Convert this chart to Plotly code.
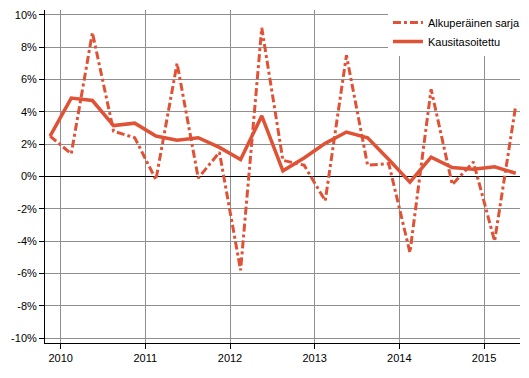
import plotly.graph_objects as go

quarters = [f"{y}Q{q}" for y in range(2010, 2016) for q in range(1, 5)][:23]
original = [2.5, 1.4, 8.9, 2.8, 2.4, -0.2, 7.0, -0.1, 1.5, -5.8, 9.2, 1.0,
            0.7, -1.5, 7.5, 0.7, 0.8, -4.7, 5.4, -0.5, 0.9, -4.0, 4.4]
adjusted = [2.5, 4.85, 4.7, 3.15, 3.3, 2.5, 2.25, 2.4, 1.8, 1.05, 3.75, 0.35,
            1.15, 2.05, 2.75, 2.4, 1.05, -0.35, 1.2, 0.55, 0.45, 0.6, 0.2]
year_labels = ["2010", "2011", "2012", "2013", "2014", "2015"]
y_ticks = [-10, -8, -6, -4, -2, 0, 2, 4, 6, 8, 10]
names = ["Alkuperäinen sarja", "Kausitasoitettu"]

color = "#e05236"
xs = list(range(len(quarters)))
tick_pos = [quarters.index(f"{y}Q1") + 0.5 for y in year_labels]

fig = go.Figure()
fig.add_trace(go.Scatter(x=xs, y=original, mode="lines", name=names[0],
                         line=dict(color=color, width=3, dash="8px,3px,3px,3px")))
fig.add_trace(go.Scatter(x=xs, y=adjusted, mode="lines", name=names[1],
                         line=dict(color=color, width=3.5)))

fig.update_layout(
    width=521, height=370,
    margin=dict(l=37, r=9, t=2, b=35, autoexpand=False),
    paper_bgcolor="white", plot_bgcolor="white",
    font=dict(family="Liberation Sans, Arial, sans-serif", size=11, color="#000"),
    showlegend=True,
    legend=dict(x=0.722, y=1.006, xanchor="left", yanchor="top",
                bgcolor="white", borderwidth=0, font=dict(size=11),
                tracegroupgap=0),
)
fig.update_xaxes(range=[-0.24, 22.2], tickmode="array", tickvals=tick_pos,
                 ticktext=year_labels, showgrid=True, gridcolor="#8f8f8f",
                 gridwidth=1, showline=True, linecolor="black", linewidth=1,
                 ticks="outside", ticklen=5, tickcolor="black", zeroline=False,
                 automargin=False)
fig.update_yaxes(range=[-10.3, 10.3], tickmode="array", tickvals=y_ticks,
                 ticktext=[f"{v}%" for v in y_ticks], showgrid=True,
                 gridcolor="#8f8f8f", gridwidth=1, showline=True,
                 linecolor="black", linewidth=1, ticks="outside", ticklen=5,
                 tickcolor="black", zeroline=True, zerolinecolor="black",
                 zerolinewidth=1, automargin=False)

fig.write_html("out.html")
